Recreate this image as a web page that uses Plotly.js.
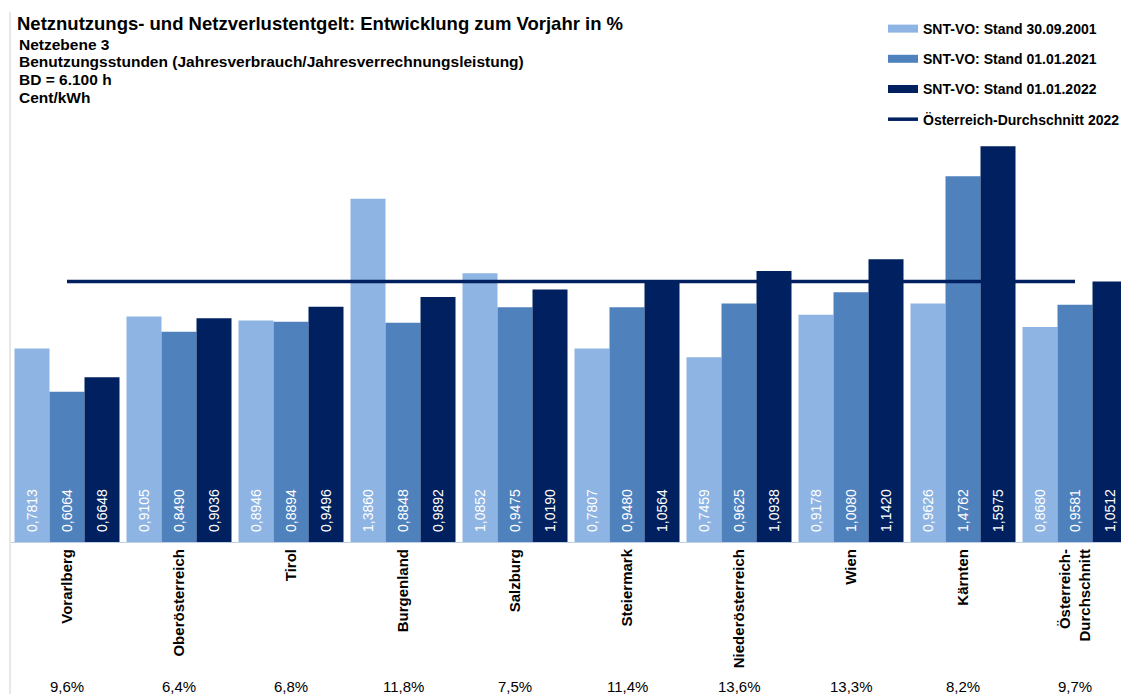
<!DOCTYPE html>
<html>
<head>
<meta charset="utf-8">
<script src="https://cdn.plot.ly/plotly-3.0.1.min.js"></script>
<style>html,body{margin:0;padding:0;background:#fff;}#chart{width:1121px;height:694px;}</style>
</head>
<body>
<div id="chart"></div>
<script>
const categories = ["Vorarlberg","Oberösterreich","Tirol","Burgenland","Salzburg","Steiermark","Niederösterreich","Wien","Kärnten","Österreich-<br>Durchschnitt"];
const stand2001 = [0.7813,0.9105,0.8946,1.3860,1.0852,0.7807,0.7459,0.9178,0.9626,0.8680];
const stand2021 = [0.6064,0.8490,0.8894,0.8848,0.9475,0.9480,0.9625,1.0080,1.4762,0.9581];
const stand2022 = [0.6648,0.9036,0.9496,0.9892,1.0190,1.0564,1.0938,1.1420,1.5975,1.0512];
const changePct = ["9,6%","6,4%","6,8%","11,8%","7,5%","11,4%","13,6%","13,3%","8,2%","9,7%"];
const avg2022 = 1.0512;
const seriesNames = ["SNT-VO: Stand 30.09.2001","SNT-VO: Stand 01.01.2021","SNT-VO: Stand 01.01.2022"];
const lineName = "Österreich-Durchschnitt 2022";
const titleText = "Netznutzungs- und Netzverlustentgelt: Entwicklung zum Vorjahr in %";
const subtitleLines = ["Netzebene 3","Benutzungsstunden (Jahresverbrauch/Jahresverrechnungsleistung)","BD = 6.100 h","Cent/kWh"];

const colors = ["#8DB4E2","#4F81BD","#002060"];
const FONT = "Liberation Sans, Arial, sans-serif";
const series = [stand2001, stand2021, stand2022];

const fmt = v => v.toFixed(4).replace(".", ",");

const traces = [];
series.forEach((s, i) => {
  traces.push({
    type: "bar", x: categories, y: s, name: seriesNames[i],
    marker: {color: colors[i]}, showlegend: false, hoverinfo: "y"
  });
});
series.forEach((s, i) => {
  traces.push({
    type: "scatter", mode: "lines", x: [null], y: [null], name: seriesNames[i],
    line: {color: colors[i], width: 8}, legendgroup: "g" + i, showlegend: true
  });
});
traces.push({
  type: "scatter", mode: "lines", x: [categories[0], categories[categories.length - 1]],
  y: [avg2022, avg2022], name: lineName, line: {color: "#002060", width: 3.5},
  legendgroup: "g3", showlegend: true
});

const annotations = [];
series.forEach((s, i) => {
  s.forEach((v, j) => {
    annotations.push({
      x: categories[j], y: 0, xref: "x", yref: "y", text: fmt(v), showarrow: false,
      textangle: -90, xanchor: "center", yanchor: "middle", xshift: (i - 1) * 35, yshift: 31,
      font: {family: FONT, size: 14, color: "#ffffff"}
    });
  });
});
changePct.forEach((t, j) => {
  annotations.push({
    x: categories[j], y: -0.3258, xref: "x", yref: "paper", text: t, showarrow: false,
    xanchor: "center", yanchor: "middle", font: {family: FONT, size: 15, color: "#000"}
  });
});
subtitleLines.forEach((t, k) => {
  annotations.push({
    xref: "paper", yref: "paper", x: (17 - 11) / 1110, y: (542 - (44 + k * 17.8)) / 442,
    xanchor: "left", yanchor: "middle", showarrow: false,
    text: "<b>" + t + "</b>", font: {family: FONT, size: 15.5, color: "#000"}
  });
});

const layout = {
  width: 1121, height: 694,
  margin: {l: 11, r: 0, t: 100, b: 152, autoexpand: false},
  paper_bgcolor: "#fff", plot_bgcolor: "#fff",
  font: {family: FONT, color: "#000"},
  title: {
    text: "<b>" + titleText + "</b>",
    xref: "container", yref: "container", x: 17 / 1121, xanchor: "left", y: 1 - 24 / 694, yanchor: "middle",
    font: {family: FONT, size: 18.5, color: "#000"}
  },
  barmode: "group", bargap: 0.0625, bargroupgap: 0,
  xaxis: {
    range: [-0.5, -0.5 + 1110 / 112], showgrid: false, zeroline: false, automargin: false,
    showline: true, linecolor: "#BFCFE3", linewidth: 1, ticks: "", tickangle: -90,
    tickfont: {family: FONT, size: 15, color: "#000", weight: "bold"}, fixedrange: true
  },
  yaxis: {range: [0, 442 / 247.7], visible: false, showgrid: false, zeroline: false, fixedrange: true},
  legend: {
    xref: "container", yref: "container", x: 883 / 1121, y: 1 - 13 / 694, xanchor: "left", yanchor: "top",
    font: {family: FONT, size: 14, color: "#000", weight: "bold"}, tracegroupgap: 9,
    bgcolor: "rgba(0,0,0,0)", itemwidth: 30
  },
  shapes: [{
    type: "line", xref: "paper", yref: "paper", x0: -1 / 1110, x1: -1 / 1110, y0: -0.36, y1: (542 - 12) / 442,
    line: {color: "#D0D0D0", width: 1}
  }],
  annotations: annotations
};

Plotly.newPlot("chart", traces, layout, {displayModeBar: false, staticPlot: true});
</script>
</body>
</html>
